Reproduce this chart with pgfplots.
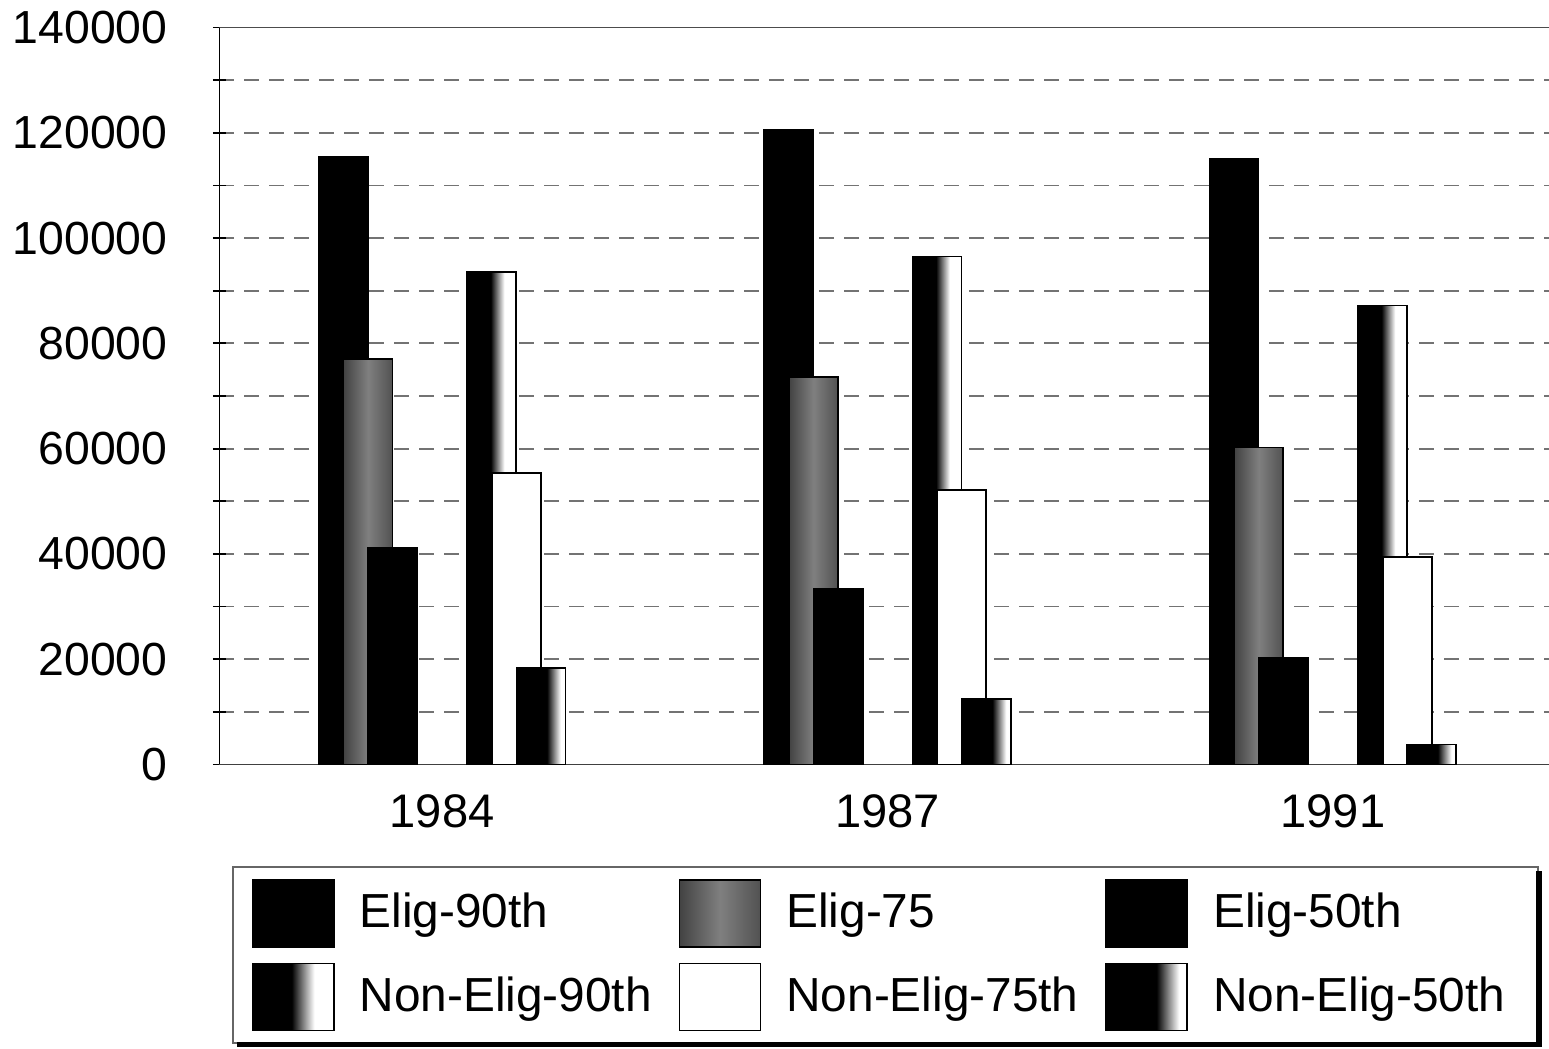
\documentclass[border=0pt]{standalone}
\usepackage{pgfplots}
\pgfplotsset{compat=1.18}
\usepackage{fontspec}
\setmainfont{Liberation Sans}

% left-to-right fills of the bars (the path box maps onto 25bp..75bp)
\pgfdeclarehorizontalshading{eligSF}{100bp}{color(0bp)=(black!74); color(25bp)=(black!74); color(50bp)=(black!50); color(75bp)=(black!68); color(100bp)=(black!68)}
\pgfdeclarehorizontalshading{neNinety}{100bp}{color(0bp)=(black); color(49bp)=(black); color(63bp)=(white); color(100bp)=(white)}
\pgfdeclarehorizontalshading{neFifty}{100bp}{color(0bp)=(black); color(56bp)=(black); color(70bp)=(white); color(100bp)=(white)}

\pgfplotsset{
  sqbar/.style={draw=black, line width=0.5pt,
    legend image code/.code={\draw[##1, draw=black, line width=0.5pt] (0cm,-0.335cm) rectangle (0.81cm,0.335cm);}},
  % shaded series: one bar per plot so every bar gets its own gradient
  eligSeventyFive/.style={sqbar, shade, shading=eligSF, bar shift=-0.1665},
  nonEligNinety/.style={sqbar, shade, shading=neNinety, bar shift=0.111},
  nonEligFifty/.style={sqbar, shade, shading=neFifty, bar shift=0.222},
}

\begin{document}
\begin{tikzpicture}
\begin{axis}[
  name=main,
  scale only axis,
  width=13.295cm, height=7.37cm,
  xmin=-0.5, xmax=2.485,
  ymin=0, ymax=140000,
  ybar, bar width=0.110,
  axis x line*=bottom, axis y line*=left,
  x axis line style={black!75},
  y axis line style={black},
  xtick={0,1,2}, xticklabels={1984,1987,1991},
  xtick style={draw=none},
  xticklabel style={yshift=-0.05cm, font=\fontsize{13.4}{15}\selectfont},
  ytick={0,20000,...,140000},
  minor ytick={10000,30000,...,130000},
  scaled y ticks=false,
  yticklabel style={/pgf/number format/fixed, /pgf/number format/1000 sep={},
    xshift=-0.33cm, font=\fontsize{13.2}{15}\selectfont},
  /pgf/number format/assume math mode=true,
  ytick align=center,
  major tick length=0.13cm, minor tick length=0.13cm,
  tick style={black, line width=0.5pt},
  minor tick style={black, line width=0.5pt},
  ymajorgrids, yminorgrids,
  major grid style={black!55, line width=0.5pt, dash pattern=on 0.15cm off 0.1cm},
  minor grid style={black!55, line width=0.5pt, dash pattern=on 0.15cm off 0.1cm},
  legend columns=3,
  legend cell align=left,
  legend style={
    at={(axis description cs:0.0094,-0.1377)}, anchor=north west,
    draw=black!60, line width=0.5pt, fill=white,
    inner xsep=0.19cm, inner ysep=0.12cm,
    row sep=0.15cm,
    font=\fontsize{13.6}{16}\selectfont,
    nodes={text width=2.9cm, inner xsep=0.16cm, inner ysep=0.05cm},
    /tikz/every odd column/.append style={column sep=0.09cm},
    /tikz/every even column/.append style={column sep=0.13cm},
  },
]
% Elig-90th
\addplot[sqbar, fill=black, bar shift=-0.222]
  coordinates {(0,115400) (1,120600) (2,115000)};
\addlegendentry{\mbox{Elig-90th}}
% Elig-75
\addplot[eligSeventyFive] coordinates {(0,77000)};
\addlegendentry{\mbox{Elig-75}}
\addplot[eligSeventyFive, forget plot] coordinates {(1,73600)};
\addplot[eligSeventyFive, forget plot] coordinates {(2,60200)};
% Elig-50th
\addplot[sqbar, fill=black, bar shift=-0.111]
  coordinates {(0,41200) (1,33400) (2,20300)};
\addlegendentry{\mbox{Elig-50th}}
% Non-Elig-90th
\addplot[nonEligNinety] coordinates {(0,93600)};
\addlegendentry{\mbox{Non-Elig-90th}}
\addplot[nonEligNinety, forget plot] coordinates {(1,96500)};
\addplot[nonEligNinety, forget plot] coordinates {(2,87200)};
% Non-Elig-75th
\addplot[sqbar, fill=white, bar shift=0.1665]
  coordinates {(0,55300) (1,52100) (2,39400)};
\addlegendentry{\mbox{Non-Elig-75th}}
% Non-Elig-50th
\addplot[nonEligFifty] coordinates {(0,18300)};
\addlegendentry{\mbox{Non-Elig-50th}}
\addplot[nonEligFifty, forget plot] coordinates {(1,12400)};
\addplot[nonEligFifty, forget plot] coordinates {(2,3800)};
% solid top border of the plot area
\draw[black!70, line width=0.5pt] (rel axis cs:0,1) -- (rel axis cs:1,1);
\end{axis}
% heavy right and bottom edge of the legend box
\fill[black] ([xshift=13.165cm, yshift=-1.065cm]main.south west) rectangle ([xshift=13.225cm, yshift=-2.825cm]main.south west);
\fill[black] ([xshift=0.175cm, yshift=-2.775cm]main.south west) rectangle ([xshift=13.225cm, yshift=-2.825cm]main.south west);
\pgfresetboundingbox
\path[use as bounding box] ([xshift=-2.195cm, yshift=-2.845cm]main.south west) rectangle ([yshift=0.275cm]main.north east);
\end{tikzpicture}
\end{document}
